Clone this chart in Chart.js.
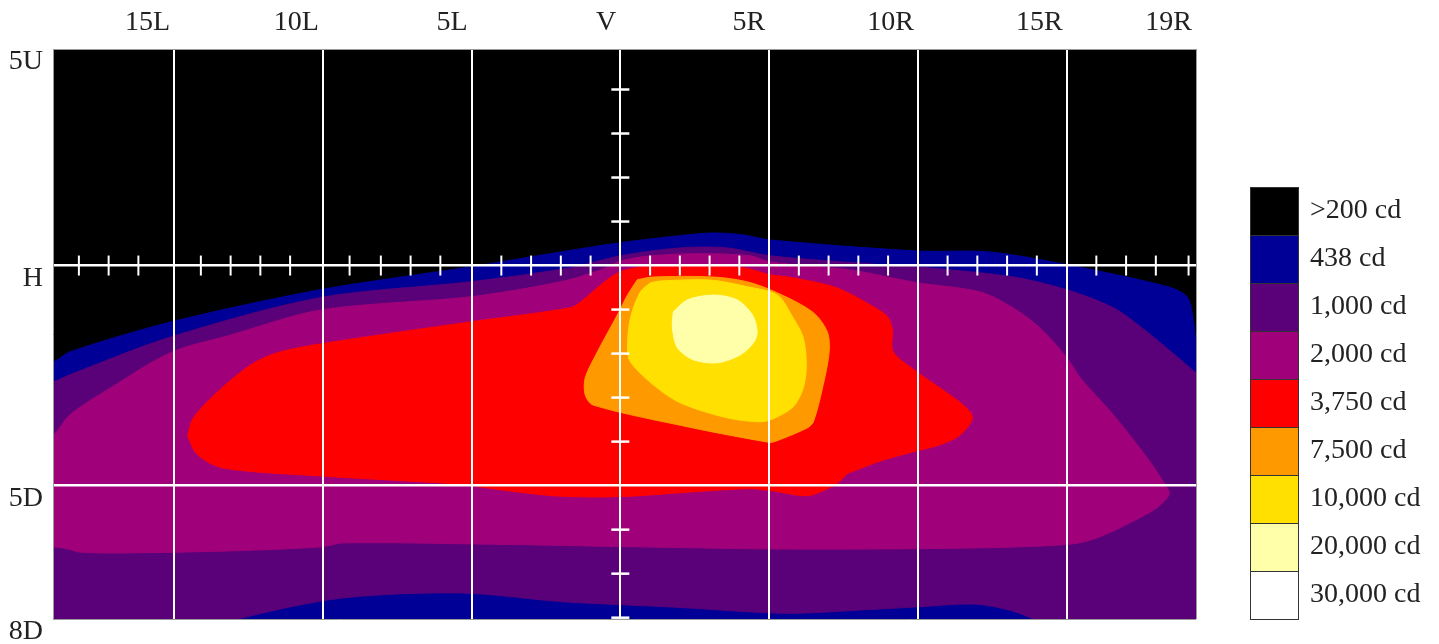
<!DOCTYPE html>
<html>
<head>
<meta charset="utf-8">
<script src="https://cdn.jsdelivr.net/npm/chart.js@4.4.1/dist/chart.umd.min.js"></script>
<style>
  html, body { margin: 0; padding: 0; background: #fff; }
  #wrap { width: 1439px; height: 644px; position: relative; }
</style>
</head>
<body>
<div id="wrap"><canvas id="chart"></canvas></div>
<script>
// legend levels (candela) and their fill colours
const legendLabels = ['>200 cd', '438 cd', '1,000 cd', '2,000 cd', '3,750 cd', '7,500 cd', '10,000 cd', '20,000 cd', '30,000 cd'];
const legendColors = ['#000000', '#000096', '#5a0078', '#a0007a', '#ff0000', '#ff9900', '#ffe000', '#ffffaa', '#ffffff'];

// axis ticks (degrees: + = right / up)
const xTickValues = [-15, -10, -5, 0, 5, 10, 15, 19.35];
const xTickLabels = ['15L', '10L', '5L', 'V', '5R', '10R', '15R', '19R'];
const yTickValues = [-8.03, -5, 0, 4.92];
const yTickLabels = ['8D', '5D', 'H', '5U'];

// 1 degree marks along H and V
const hMarksX = [-18.2, -17.2, -16.2, -14.1, -13.1, -12.1, -11.1, -9.1, -8.05, -7.05, -6.05, -4, -3, -2, -1,
  1, 2, 3, 4, 6, 7, 8, 9, 11, 12, 13, 14, 16, 17, 18, 19.1];
const vMarksY = [4, 3, 2, 1, -1, -2, -3, -4, -6, -7, -8];

// iso-candela regions, [h deg, v deg], each region = intensity >= level
const area200 = [[-20, -9], [20, -9], [20, 6], [-20, 6], [-20, -9]];
const area438 = [[-19.5, -2.23], [-19.05, -2.19], [-18.5, -1.96], [-15.1, -1.28], [-10.1, -0.55], [-5.05, -0.03],
  [-2.0, 0.31], [0, 0.52], [2.0, 0.68], [3.1, 0.74], [4.1, 0.7], [5.05, 0.58], [10.0, 0.33], [12.4, 0.31],
  [15.0, 0.02], [18.4, -0.48], [19.05, -0.71], [19.25, -1.19], [19.35, -1.8], [19.42, -2.14], [19.8, -2.6],
  [19.8, -8.5], [-19.5, -8.5], [-19.5, -2.23]];
const area1000 = [[-19.5, -2.69], [-19.05, -2.64], [-18.5, -2.48], [-15.1, -1.62], [-10.1, -0.73], [-5.05, -0.37],
  [-1.68, -0.05], [0, 0.22], [2.0, 0.4], [3.6, 0.4], [5.05, 0.22], [8.74, 0.02], [10.0, -0.03], [13.2, -0.26],
  [15.0, -0.55], [16.57, -0.96], [17.71, -1.51], [19.35, -2.44], [19.8, -2.71], [19.8, -8.5], [14.11, -8.14],
  [13.88, -8.03], [13.1, -7.83], [11.9, -7.69], [9.85, -7.76], [7.96, -7.83], [5.51, -7.9], [1.81, -7.76],
  [-1.88, -7.64], [-5.34, -7.44], [-9.31, -7.55], [-12.74, -8.01], [-13.1, -8.19], [-19.5, -8.5], [-19.5, -2.69]];
const area2000 = [[-19.5, -3.96], [-19.05, -3.85], [-18.5, -3.39], [-17.14, -2.78], [-15.12, -1.98], [-13.1, -1.58],
  [-10.08, -1.01], [-5.04, -0.71], [-2.02, -0.37], [-0.67, -0.1], [0, 0.1], [1.01, 0.22], [2.69, 0.27],
  [4.37, 0.22], [5.04, 0.08], [7.73, -0.1], [9.98, -0.39], [12.1, -0.6], [13.2, -0.96], [14.11, -1.42],
  [15.02, -2.1], [15.46, -2.55], [16.57, -3.39], [17.71, -4.37], [18.21, -4.87], [18.45, -5.18], [18.15, -5.44],
  [17.71, -5.64], [16.13, -6.16], [15.12, -6.33], [11.42, -6.42], [5.51, -6.44], [0.57, -6.39], [-4.37, -6.33],
  [-9.31, -6.3], [-10.05, -6.39], [-13.0, -6.48], [-16.7, -6.53], [-18.18, -6.51], [-18.55, -6.44],
  [-19.05, -6.39], [-19.5, -6.39], [-19.5, -3.96]];
const area3750 = [[-14.55, -3.87], [-14.35, -3.46], [-13.54, -2.87], [-12.43, -2.26], [-11.53, -1.98], [-10.08, -1.78],
  [-5.04, -1.28], [-1.68, -0.96], [-1.34, -0.83], [-0.57, -0.39], [0, -0.14], [0.77, -0.03], [2.45, -0.01],
  [4.13, -0.05], [5.04, -0.21], [5.81, -0.28], [7.29, -0.51], [8.74, -1.03], [9.01, -1.19], [9.14, -1.46],
  [9.17, -1.96], [9.98, -2.42], [11.53, -3.17], [11.83, -3.46], [11.42, -3.85], [10.75, -4.07], [9.85, -4.23],
  [8.74, -4.44], [7.96, -4.64], [7.63, -4.73], [7.36, -4.91], [6.96, -5.07], [6.28, -5.23], [5.04, -5.11],
  [4.27, -5.07], [2.02, -5.16], [0, -5.25], [-2.25, -5.23], [-4.7, -5.03], [-5.04, -4.98], [-10.08, -4.78],
  [-13.34, -4.6], [-14.21, -4.3], [-14.55, -3.87]];
const area7500 = [[0.57, -0.32], [1.11, -0.26], [3.13, -0.26], [4.27, -0.37], [5.28, -0.62], [6.49, -1.07],
  [6.96, -1.51], [7.02, -1.96], [6.82, -2.71], [6.49, -3.55], [6.28, -3.69], [5.14, -4.01], [4.94, -4.01],
  [2.45, -3.69], [-0.91, -3.17], [-1.18, -2.94], [-1.18, -2.55], [-0.77, -1.96], [-0.1, -1.12], [0.24, -0.67],
  [0.57, -0.32]];
const area10000 = [[1.01, -0.39], [1.34, -0.35], [3.02, -0.33], [4.27, -0.48], [5.28, -0.67], [5.81, -1.19],
  [6.15, -1.64], [6.25, -2.26], [6.15, -2.78], [5.81, -3.21], [5.14, -3.48], [4.7, -3.55], [3.6, -3.46],
  [2.02, -3.12], [1.11, -2.71], [0.34, -2.19], [0.24, -1.87], [0.34, -1.19], [0.67, -0.6], [1.01, -0.39]];
const area20000 = [[1.78, -1.05], [2.25, -0.78], [3.13, -0.67], [3.93, -0.78], [4.44, -1.12], [4.6, -1.51],
  [4.47, -1.76], [4.03, -2.03], [3.26, -2.21], [2.45, -2.14], [1.92, -1.87], [1.75, -1.42], [1.78, -1.05]];
const area30000 = [];

const areas = [area200, area438, area1000, area2000, area3750, area7500, area10000, area20000, area30000];

const serif = "'Liberation Serif', 'DejaVu Serif', serif";
const textColor = '#222';

const contourSets = areas.map((pts, i) => ({
  label: legendLabels[i],
  data: pts.map(p => ({ x: p[0], y: p[1] })),
  fill: 'shape',
  backgroundColor: legendColors[i],
  borderColor: legendColors[i],
  borderWidth: 1,
  pointRadius: 0,
  tension: 0.3,
  order: 20 - i
}));

const hMarkSet = {
  label: 'h marks',
  data: hMarksX.map(x => ({ x, y: 0 })),
  showLine: false,
  pointStyle: 'line',
  pointRotation: 90,
  pointRadius: 10,
  pointBorderColor: '#fff',
  pointBorderWidth: 2,
  order: 0
};

const vMarkSet = {
  label: 'v marks',
  data: vMarksY.map(y => ({ x: 0, y })),
  showLine: false,
  pointStyle: 'line',
  pointRadius: 9,
  pointBorderColor: '#fff',
  pointBorderWidth: 2.5,
  order: 0
};

// stacked colour key to the right of the plot
const colourKey = {
  id: 'colourKey',
  afterDraw(chart) {
    const { ctx, chartArea } = chart;
    const box = 48;
    const left = chartArea.right + 54;
    const top = chartArea.bottom - box * legendLabels.length;
    ctx.save();
    legendLabels.forEach((lab, i) => {
      const y = top + i * box;
      ctx.fillStyle = legendColors[i];
      ctx.fillRect(left, y, box, box);
      ctx.strokeStyle = '#333';
      ctx.lineWidth = 1;
      ctx.strokeRect(left + 0.5, y + 0.5, box, box);
      ctx.fillStyle = textColor;
      ctx.font = '28px ' + serif;
      ctx.textBaseline = 'middle';
      ctx.textAlign = 'left';
      ctx.fillText(lab, left + 60, y + box / 2);
    });
    ctx.restore();
  }
};

const isInnerX = c => c.tick && Math.abs(c.tick.value) < 19;
const isInnerY = c => c.tick && c.tick.value > -8 && c.tick.value < 4.9;

new Chart(document.getElementById('chart'), {
  type: 'line',
  data: { datasets: [...contourSets, hMarkSet, vMarkSet] },
  options: {
    responsive: true,
    maintainAspectRatio: false,
    animation: false,
    layout: { padding: { right: 243, bottom: 25 } },
    plugins: { legend: { display: false }, tooltip: { enabled: false } },
    scales: {
      x: {
        type: 'linear',
        position: 'top',
        min: -19.07,
        max: 19.35,
        afterBuildTicks: s => { s.ticks = xTickValues.map(v => ({ value: v })); },
        afterFit: s => { s.height = 49; },
        ticks: {
          autoSkip: false,
          align: 'end',
          labelOffset: -4,
          padding: 10,
          color: textColor,
          font: { family: serif, size: 28 },
          callback: (v, i) => xTickLabels[i]
        },
        grid: {
          z: 1,
          drawTicks: false,
          color: c => isInnerX(c) ? '#ffffff' : '#9a9a9a',
          lineWidth: c => isInnerX(c) ? 2 : 1
        },
        border: { display: true, color: '#9a9a9a', width: 1, z: 1 }
      },
      y: {
        type: 'linear',
        min: -8.03,
        max: 4.92,
        afterBuildTicks: s => { s.ticks = yTickValues.map(v => ({ value: v })); },
        afterFit: s => { s.width = 53; s.paddingTop = 0; s.paddingBottom = 0; },
        ticks: {
          autoSkip: false,
          labelOffset: 13,
          padding: 10,
          color: textColor,
          font: { family: serif, size: 28 },
          callback: (v, i) => yTickLabels[i]
        },
        grid: {
          z: 1,
          drawTicks: false,
          color: c => isInnerY(c) ? '#ffffff' : '#9a9a9a',
          lineWidth: c => isInnerY(c) ? 2.5 : 1
        },
        border: { display: true, color: '#9a9a9a', width: 1, z: 1 }
      }
    }
  },
  plugins: [colourKey]
});
</script>
</body>
</html>
